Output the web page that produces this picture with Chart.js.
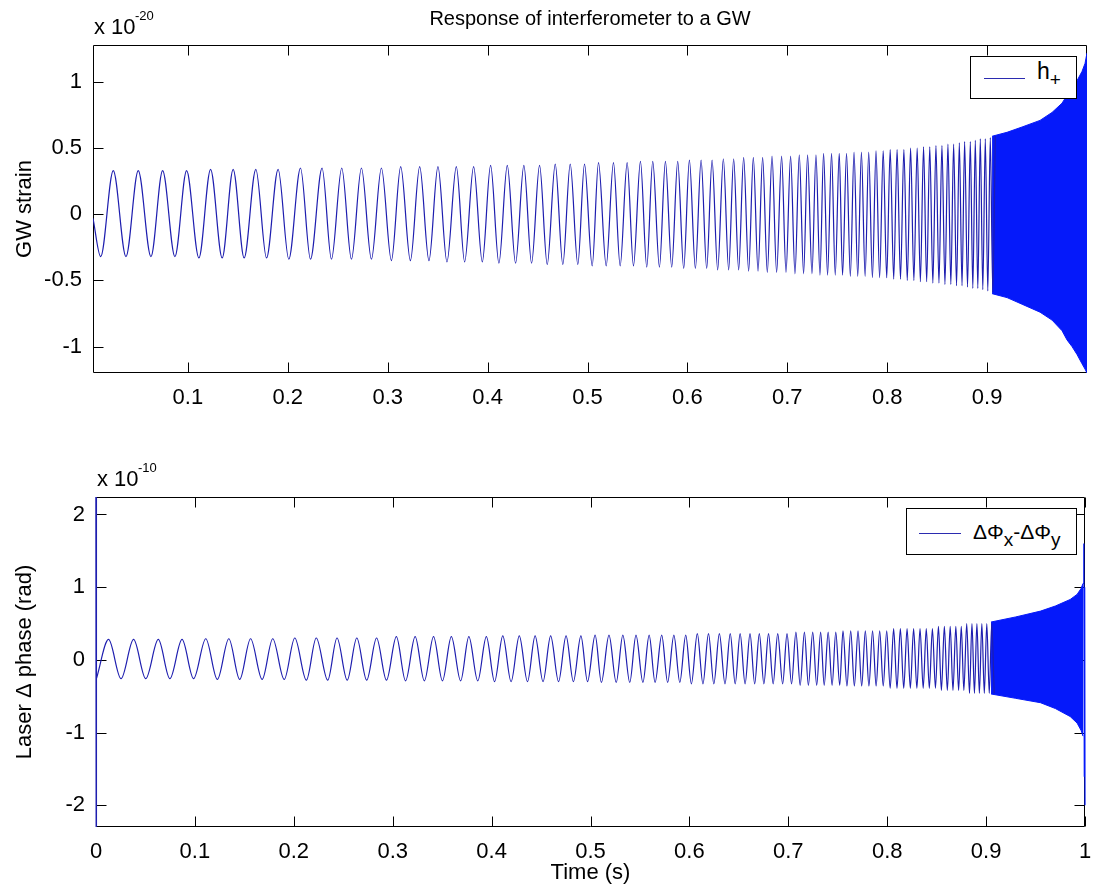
<!DOCTYPE html>
<html><head><meta charset="utf-8">
<script src="https://cdn.jsdelivr.net/npm/chart.js@4.4.1/dist/chart.umd.min.js"></script>
<style>
body{margin:0;background:#fff;}
#wrap{position:relative;width:1098px;height:889px;font-family:"Liberation Sans",Arial,Helvetica,sans-serif;color:#000;overflow:hidden;}
canvas{position:absolute;left:0;}
.t{position:absolute;white-space:nowrap;line-height:1;}
.leg{position:absolute;border:1px solid #000;background:#fff;box-sizing:border-box;}
.leg .ln{position:absolute;height:0;border-top:1px solid #2b2bb0;}
.leg sub{font-size:19px;vertical-align:-7px;line-height:0;}
</style></head>
<body>
<div id="wrap">
<canvas id="c1" width="1098" height="420" style="top:0"></canvas>
<canvas id="c2" width="1098" height="469" style="top:420px"></canvas>
<div class="t" style="left:94px;top:16px;font-size:22px">x 10</div>
<div class="t" style="left:135px;top:9px;font-size:13px">-20</div>
<div class="t" style="left:97px;top:468px;font-size:22px">x 10</div>
<div class="t" style="left:138px;top:461px;font-size:13px">-10</div>
<div class="leg" style="left:970px;top:56px;width:107px;height:43px">
  <div class="ln" style="left:13px;top:21px;width:41px"></div>
  <div class="t" style="left:66px;top:3px;font-size:23px">h<sub>+</sub></div>
</div>
<div class="leg" style="left:906px;top:508px;width:171px;height:47px">
  <div class="ln" style="left:12px;top:24px;width:42px"></div>
  <div class="t" style="left:66px;top:12px;font-size:21px">&Delta;&Phi;<sub>x</sub>-&Delta;&Phi;<sub>y</sub></div>
</div>
</div>
<script>
// ---------------- data ----------------
const TITLE = 'Response of interferometer to a GW';
const topXTicks = [0.1,0.2,0.3,0.4,0.5,0.6,0.7,0.8,0.9];
const topXLabels = ['0.1','0.2','0.3','0.4','0.5','0.6','0.7','0.8','0.9'];
const topYTicks = [-1,-0.5,0,0.5,1];
const topYLabels = ['-1','-0.5','0','0.5','1'];
const botXTicks = [0,0.1,0.2,0.3,0.4,0.5,0.6,0.7,0.8,0.9,1];
const botXLabels = ['0','0.1','0.2','0.3','0.4','0.5','0.6','0.7','0.8','0.9','1'];
const botYTicks = [-2,-1,0,1,2];
const botYLabels = ['-2','-1','0','1','2'];

// times (s) of the resolved extrema of the chirp (alternating; first is a trough of h+)
const extremaT = [
0.0127,0.0253,0.0380,0.0503,0.0630,0.0747,0.0870,0.0987,0.1110,0.1227,
0.1343,0.1453,0.1563,0.1680,0.1787,0.1903,0.2010,0.2127,0.2227,0.2343,
0.2437,0.2540,0.2637,0.2737,0.2837,0.2937,0.3037,0.3130,0.3227,0.3320,
0.3413,0.3503,0.3593,0.3687,0.3770,0.3860,0.3947,0.4030,0.4113,0.4197,
0.4280,0.4363,0.4440,0.4520,0.4597,0.4677,0.4753,0.4827,0.4903,0.4970,
0.5047,0.5110,0.5187,0.5260,0.5327,0.5397,0.5460,0.5530,0.5593,0.5653,
0.5720,0.5780,0.5843,0.5903,0.5963,0.6020,0.6080,0.6137,0.6193,0.6247,
0.6303,0.6360,0.6413,0.6463,0.6513,0.6563,0.6613,0.6660,0.6707,0.6753,
0.6800,0.6847,0.6893,0.6943,0.6987,0.7033,0.7077,0.7120,0.7163,0.7203,
0.7247,0.7287,0.7327,0.7363,0.7403,0.7443,0.7480,0.7520,0.7553,0.7593,
0.7631,0.7668,0.7705,0.7742,0.7779,0.7815,0.7852,0.7888,0.7924,0.7960,
0.7995,0.8030,0.8065,0.8099,0.8133,0.8167,0.8201,0.8234,0.8267,0.8300,
0.8332,0.8364,0.8395,0.8426,0.8457,0.8488,0.8518,0.8548,0.8578,0.8608,
0.8637,0.8665,0.8694,0.8722,0.8749,0.8775,0.8804,0.8832,0.8857,0.8882,
0.8907,0.8932,0.8957,0.8982,0.9007,0.9032,0.9057,0.9082
];
// GW strain (x1e-20) at those extrema
const strainV = [
-0.32,0.33,-0.32,0.33,-0.32,0.33,-0.32,0.33,-0.33,0.34,
-0.33,0.34,-0.33,0.34,-0.33,0.34,-0.34,0.35,-0.34,0.35,
-0.34,0.35,-0.34,0.35,-0.34,0.35,-0.35,0.36,-0.35,0.36,
-0.35,0.36,-0.36,0.36,-0.36,0.36,-0.36,0.37,-0.37,0.37,
-0.37,0.37,-0.37,0.37,-0.38,0.38,-0.38,0.38,-0.38,0.38,
-0.39,0.39,-0.39,0.39,-0.39,0.39,-0.39,0.40,-0.40,0.40,
-0.40,0.40,-0.40,0.40,-0.41,0.41,-0.41,0.41,-0.41,0.41,
-0.42,0.42,-0.42,0.42,-0.42,0.43,-0.43,0.43,-0.43,0.43,
-0.44,0.44,-0.44,0.44,-0.44,0.44,-0.45,0.45,-0.45,0.45,
-0.45,0.45,-0.46,0.46,-0.46,0.46,-0.46,0.46,-0.46,0.46,
-0.47,0.47,-0.47,0.47,-0.47,0.47,-0.48,0.48,-0.48,0.48,
-0.48,0.49,-0.49,0.49,-0.49,0.49,-0.50,0.50,-0.50,0.50,
-0.51,0.51,-0.51,0.51,-0.52,0.52,-0.52,0.52,-0.53,0.53,
-0.53,0.53,-0.54,0.54,-0.54,0.55,-0.55,0.55,-0.56,0.56,
-0.56,0.57,-0.57,0.57,-0.58,0.58,-0.59,0.59
];
// laser phase difference (x1e-10 rad) at those extrema
const phaseV = [
0.28,-0.26,0.28,-0.26,0.28,-0.26,0.28,-0.26,0.29,-0.27,
0.29,-0.27,0.29,-0.27,0.29,-0.27,0.30,-0.28,0.30,-0.28,
0.30,-0.28,0.30,-0.28,0.30,-0.28,0.32,-0.29,0.32,-0.29,
0.32,-0.29,0.32,-0.29,0.32,-0.29,0.32,-0.30,0.33,-0.30,
0.33,-0.30,0.33,-0.30,0.33,-0.30,0.33,-0.30,0.33,-0.30,
0.34,-0.31,0.34,-0.31,0.34,-0.31,0.34,-0.31,0.34,-0.31,
0.34,-0.31,0.34,-0.31,0.34,-0.33,0.36,-0.33,0.36,-0.33,
0.36,-0.33,0.36,-0.33,0.36,-0.33,0.36,-0.33,0.36,-0.33,
0.36,-0.33,0.36,-0.33,0.36,-0.33,0.38,-0.35,0.38,-0.35,
0.38,-0.35,0.38,-0.35,0.38,-0.35,0.38,-0.35,0.40,-0.36,
0.40,-0.36,0.40,-0.36,0.40,-0.36,0.40,-0.36,0.40,-0.36,
0.40,-0.39,0.43,-0.39,0.43,-0.39,0.43,-0.39,0.43,-0.39,
0.43,-0.39,0.43,-0.39,0.43,-0.39,0.46,-0.42,0.46,-0.42,
0.46,-0.42,0.46,-0.42,0.46,-0.42,0.50,-0.46,0.50,-0.46,
0.50,-0.46,0.50,-0.46,0.50,-0.46,0.50,-0.46
];
// leading points before the first extremum
const strainLeadT = [0.005];
const strainLeadV = [-0.03];
const phaseLeadT = [0, 0, 0.0006];
const phaseLeadV = [2.24, -2.30, -0.25];

// unresolved (solid) part: envelope of the dense oscillation
const strainBandT = [0.905,0.92,0.935,0.953,0.965,0.975,0.98,0.985,0.99,0.995,0.998,1.0];
const strainBandHi = [0.59,0.62,0.66,0.71,0.77,0.84,0.90,0.95,1.01,1.08,1.14,1.22];
const strainBandLo = [-0.60,-0.63,-0.68,-0.74,-0.80,-0.88,-0.95,-1.00,-1.06,-1.13,-1.17,-1.20];
const phaseBandT = [0.905,0.93,0.955,0.97,0.985,0.992,0.996,0.998];
const phaseBandHi = [0.52,0.59,0.67,0.74,0.83,0.90,0.98,1.05];
const phaseBandLo = [-0.47,-0.53,-0.59,-0.67,-0.78,-0.87,-0.97,-1.05];
// final spike of the phase signal
const phaseEndT = [0.998,0.9988,0.9993,0.9997,1.0];
const phaseEndV = [1.05,1.6,-1.6,1.0,-2.0];

// ---------------- drawing ----------------
const FONT = '"Liberation Sans", Arial, Helvetica, sans-serif';
const LINE = 'rgb(30,30,175)';
const FILL = 'rgb(5,25,250)';
const pts = (T, V) => T.map((t, i) => ({x: t, y: V[i]}));

const boxPlugin = {
  id: 'boxTicks',
  beforeDatasetsDraw(chart) {
    const {ctx, chartArea: a, scales: {x, y}} = chart;
    const L = 10;
    const l = Math.round(a.left) + 0.5, r = Math.round(a.right) - 0.5;
    const t = Math.round(a.top) + 0.5, b = Math.round(a.bottom) - 0.5;
    ctx.save();
    ctx.strokeStyle = '#000';
    ctx.lineWidth = 1;
    ctx.beginPath();
    ctx.rect(l, t, r - l, b - t);
    x.ticks.forEach(tk => {
      const p = Math.round(x.getPixelForValue(tk.value)) + 0.5;
      ctx.moveTo(p, t); ctx.lineTo(p, t + L);
      ctx.moveTo(p, b); ctx.lineTo(p, b - L);
    });
    y.ticks.forEach(tk => {
      const p = Math.round(y.getPixelForValue(tk.value)) + 0.5;
      ctx.moveTo(l, p); ctx.lineTo(l + L, p);
      ctx.moveTo(r, p); ctx.lineTo(r - L, p);
    });
    ctx.stroke();
    ctx.restore();
  }
};

function tickFont() { return {family: FONT, size: 22}; }

function makeChart(id, o) {
  return new Chart(document.getElementById(id), {
    type: 'line',
    data: {datasets: o.datasets},
    options: {
      responsive: false, animation: false, events: [],
      layout: {padding: o.padding},
      elements: {point: {radius: 0}},
      plugins: {
        legend: {display: false}, tooltip: {enabled: false},
        title: o.title ? {display: true, text: o.title, fullSize: false, color: '#000',
          font: {family: FONT, size: 20, weight: 'normal'}, padding: {top: 7, bottom: 14}} : {display: false}
      },
      scales: {
        x: {
          type: 'linear', min: o.xMin, max: o.xMax,
          grid: {display: false}, border: {display: false},
          afterBuildTicks: s => { s.ticks = o.xTicks.map(v => ({value: v})); },
          afterFit: s => { s.height = o.xHeight; },
          ticks: {callback: (v, i) => o.xLabels[i], autoSkip: false, maxRotation: 0, minRotation: 0,
            padding: 4, color: '#000', font: tickFont()},
          title: o.xTitle ? {display: true, text: o.xTitle, color: '#000', font: {family: FONT, size: 22},
            padding: {top: 0, bottom: 3}} : {display: false}
        },
        y: {
          type: 'linear', min: o.yMin, max: o.yMax,
          grid: {display: false}, border: {display: false},
          afterBuildTicks: s => { s.ticks = o.yTicks.map(v => ({value: v})); },
          afterFit: s => { s.width = o.yWidth; },
          ticks: {callback: (v, i) => o.yLabels[i], autoSkip: false, padding: 3, color: '#000', font: tickFont()},
          title: {display: true, text: o.yTitle, color: '#000', font: {family: FONT, size: 22},
            padding: {top: 12, bottom: 0}}
        }
      }
    },
    plugins: [boxPlugin]
  });
}

const lineDs = (data, extra) => Object.assign({data, borderColor: LINE, borderWidth: 1.2, pointRadius: 0,
  fill: false, cubicInterpolationMode: 'monotone'}, extra || {});

makeChart('c1', {
  title: TITLE,
  padding: {left: 0, right: 11, top: 0, bottom: 0},
  xMin: 0.005, xMax: 1.0, xTicks: topXTicks, xLabels: topXLabels, xHeight: 47,
  yMin: -1.2, yMax: 1.28, yTicks: topYTicks, yLabels: topYLabels, yWidth: 93,
  yTitle: 'GW strain',
  datasets: [
    lineDs(pts(strainLeadT.concat(extremaT), strainLeadV.concat(strainV))),
    {data: pts(strainBandT, strainBandHi), borderColor: FILL, backgroundColor: FILL, borderWidth: 1, pointRadius: 0, fill: '+1'},
    {data: pts(strainBandT, strainBandLo), borderColor: FILL, borderWidth: 1, pointRadius: 0, fill: false}
  ]
});

makeChart('c2', {
  padding: {left: 0, right: 13, top: 77, bottom: 0},
  xMin: 0, xMax: 1, xTicks: botXTicks, xLabels: botXLabels, xHeight: 62, xTitle: 'Time (s)',
  yMin: -2.3, yMax: 2.24, yTicks: botYTicks, yLabels: botYLabels, yWidth: 96,
  yTitle: 'Laser \u0394 phase (rad)',
  datasets: [
    {data: pts(phaseLeadT, phaseLeadV), borderColor: LINE, borderWidth: 1.5, pointRadius: 0, fill: false, clip: 2},
    lineDs(pts(phaseLeadT.slice(2).concat(extremaT), phaseLeadV.slice(2).concat(phaseV))),
    {data: pts(phaseBandT, phaseBandHi), borderColor: FILL, backgroundColor: FILL, borderWidth: 1, pointRadius: 0, fill: '+1'},
    {data: pts(phaseBandT, phaseBandLo), borderColor: FILL, borderWidth: 1, pointRadius: 0, fill: false},
    {data: pts(phaseEndT, phaseEndV), borderColor: FILL, borderWidth: 1.2, pointRadius: 0, fill: false, clip: 2}
  ]
});
</script>
</body></html>
